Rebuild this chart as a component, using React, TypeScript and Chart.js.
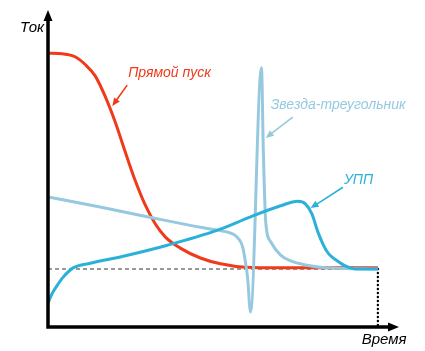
import React, { useEffect, useRef } from "react";
import { Chart, registerables } from "chart.js";

Chart.register(...registerables);

// Time axis: 0..100 (end of start), current axis: multiples of nominal current
const directX = [0, 4.3, 8.2, 11.2, 14.3, 17.3, 20.4, 23.4, 26.4, 29.5, 32.5, 35.6, 40.1, 46.2, 52.3, 59.9, 70.5, 100];
const directY = [4.72, 4.71, 4.66, 4.53, 4.33, 3.98, 3.53, 3.02, 2.53, 2.10, 1.78, 1.55, 1.36, 1.19, 1.09, 1.03, 1.02, 1.02];

const starX = [0, 15.8, 31.9, 46.2, 51.4, 56.2, 57.8, 59.0, 59.9, 60.5, 61.4, 64.7, 65.3, 66.0, 67.5, 70.5, 73.6, 78.1, 84.2, 100];
const starY = [2.24, 2.07, 1.88, 1.72, 1.67, 1.60, 1.52, 1.38, 1.10, 0.85, 0.26, 4.47, 2.97, 1.81, 1.47, 1.24, 1.14, 1.07, 1.02, 1.0];

const softX = [0, 1.2, 2.7, 4.6, 7.6, 12.8, 22.8, 36.2, 51.4, 61.4, 70.5, 75.7, 78.1, 80.0, 81.8, 83.6, 85.1, 87.2, 90.3, 93.3, 100];
const softY = [0.41, 0.57, 0.71, 0.86, 1.02, 1.10, 1.22, 1.41, 1.67, 1.90, 2.09, 2.17, 2.12, 1.95, 1.64, 1.40, 1.26, 1.16, 1.05, 1.0, 1.0];

const nominalX = [0, 100];
const nominalY = [1, 1];

const endX = [100, 100];
const endY = [1, 0];

const labels = {
  y: "Ток",
  x: "Время",
  direct: "Прямой пуск",
  star: "Звезда-треугольник",
  soft: "УПП",
};

const RED = "#ef3a1b";
const LIGHT = "#96c9e0";
const BLUE = "#2bb1d9";

const pts = (xs: number[], ys: number[]) => xs.map((x, i) => ({ x, y: ys[i] }));

const annotationPlugin = {
  id: "annot",
  afterDatasetsDraw(chart: any) {
    const ctx = chart.ctx as CanvasRenderingContext2D;
    const xs = chart.scales.x;
    const ys = chart.scales.y;
    const px = (v: number) => xs.getPixelForValue(v);
    const py = (v: number) => ys.getPixelForValue(v);
    const x0 = px(0);
    const y0 = py(0);
    const xEnd = chart.chartArea.right;
    const yTop = chart.chartArea.top;

    ctx.save();
    // axes
    ctx.strokeStyle = "#000";
    ctx.fillStyle = "#000";
    ctx.lineWidth = 3.5;
    ctx.lineCap = "butt";
    ctx.beginPath();
    ctx.moveTo(x0, y0 + 1.75);
    ctx.lineTo(x0, yTop + 8);
    ctx.moveTo(x0 - 1.75, y0);
    ctx.lineTo(xEnd - 8, y0);
    ctx.stroke();
    ctx.beginPath();
    ctx.moveTo(x0, yTop);
    ctx.lineTo(x0 - 4.5, yTop + 11);
    ctx.lineTo(x0 + 4.5, yTop + 11);
    ctx.closePath();
    ctx.fill();
    ctx.beginPath();
    ctx.moveTo(xEnd, y0);
    ctx.lineTo(xEnd - 11, y0 - 4.5);
    ctx.lineTo(xEnd - 11, y0 + 4.5);
    ctx.closePath();
    ctx.fill();

    ctx.font = "italic 15px 'Liberation Sans', Arial, sans-serif";
    ctx.textBaseline = "alphabetic";
    ctx.textAlign = "left";
    ctx.fillText(labels.y, x0 - 28, yTop + 22);
    ctx.fillText(labels.x, px(95.1), y0 + 17);

    const arrow = (x1: number, y1: number, x2: number, y2: number, color: string) => {
      const ax = px(x1), ay = py(y1), bx = px(x2), by = py(y2);
      const ang = Math.atan2(by - ay, bx - ax);
      const L = 8, W = 3.5;
      ctx.strokeStyle = color;
      ctx.fillStyle = color;
      ctx.lineWidth = 1.6;
      ctx.beginPath();
      ctx.moveTo(ax, ay);
      ctx.lineTo(bx - Math.cos(ang) * (L - 1), by - Math.sin(ang) * (L - 1));
      ctx.stroke();
      ctx.beginPath();
      ctx.moveTo(bx, by);
      ctx.lineTo(bx - Math.cos(ang) * L - Math.sin(ang) * W, by - Math.sin(ang) * L + Math.cos(ang) * W);
      ctx.lineTo(bx - Math.cos(ang) * L + Math.sin(ang) * W, by - Math.sin(ang) * L - Math.cos(ang) * W);
      ctx.closePath();
      ctx.fill();
    };

    ctx.font = "italic 14px 'Liberation Sans', Arial, sans-serif";
    ctx.fillStyle = RED;
    ctx.fillText(labels.direct, px(24.3), py(4.31));
    arrow(24.0, 4.17, 19.5, 3.81, RED);

    ctx.fillStyle = LIGHT;
    ctx.fillText(labels.star, px(67.5), py(3.76));
    arrow(74.2, 3.62, 66.0, 3.26, LIGHT);

    ctx.fillStyle = BLUE;
    ctx.fillText(labels.soft, px(89.7), py(2.47));
    arrow(89.4, 2.41, 79.6, 2.05, BLUE);
    ctx.restore();
  },
};

export default function App() {
  const ref = useRef<HTMLCanvasElement>(null);
  useEffect(() => {
    if (!ref.current) return;
    const curve = (data: any, color: string) => ({
      data,
      borderColor: color,
      backgroundColor: color,
      borderWidth: 3,
      pointRadius: 0,
      cubicInterpolationMode: "monotone" as const,
      fill: false,
    });
    const chart = new Chart(ref.current, {
      type: "line",
      data: {
        datasets: [
          curve(pts(softX, softY), BLUE),
          curve(pts(starX, starY), LIGHT),
          curve(pts(directX, directY), RED),
          {
            data: pts(nominalX, nominalY),
            borderColor: "#333",
            borderWidth: 1,
            borderDash: [4, 3],
            pointRadius: 0,
          },
          {
            data: pts(endX, endY),
            borderColor: "#000",
            borderWidth: 2.4,
            borderDash: [0, 4],
            borderCapStyle: "round",
            pointRadius: 0,
          },
        ] as any,
      },
      options: {
        animation: false,
        responsive: false,
        maintainAspectRatio: false,
        layout: { padding: { left: 48, right: 26, top: 10, bottom: 24 } },
        plugins: { legend: { display: false }, tooltip: { enabled: false } },
        scales: {
          x: { type: "linear", min: 0, max: 106.4, display: false },
          y: { type: "linear", min: 0, max: 5.466, display: false },
        },
      },
      plugins: [annotationPlugin],
    });
    return () => chart.destroy();
  }, []);
  return (
    <div style={{ position: "fixed", left: 0, top: 0, width: 425, height: 351, background: "#fff" }}>
      <canvas ref={ref} width={425} height={351} style={{ width: 425, height: 351 }} />
    </div>
  );
}
